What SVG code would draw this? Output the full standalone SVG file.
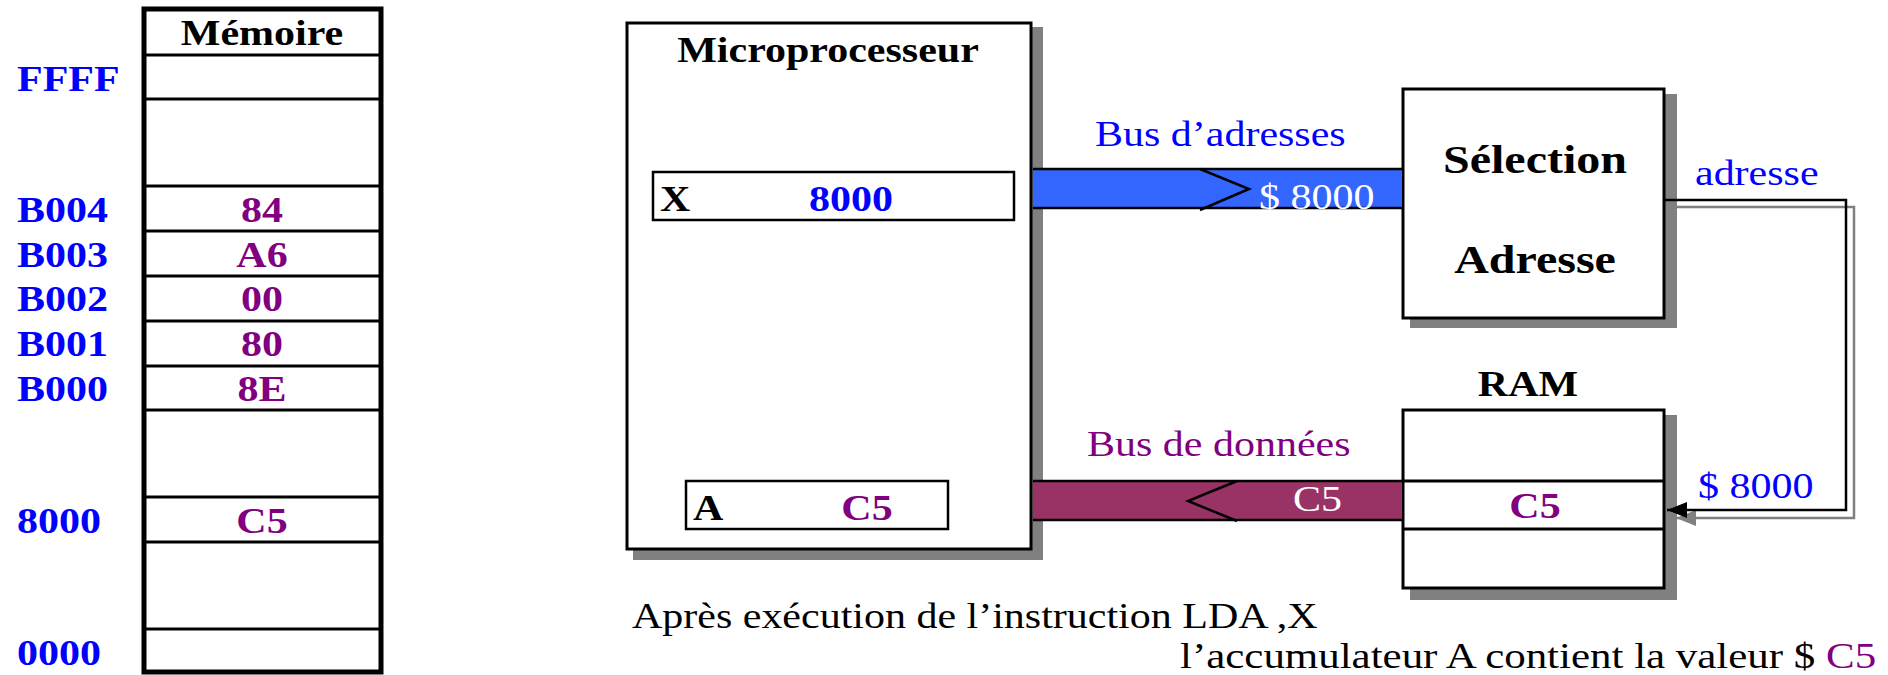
<svg xmlns="http://www.w3.org/2000/svg" width="1888" height="675" viewBox="0 0 1888 675">
<style>
text{font-family:"Liberation Serif","Times New Roman",serif;font-size:35px}
.b{font-weight:bold}
.big{font-weight:bold;font-size:40px}
.mid{text-anchor:middle}
.blue{fill:#0000FF}
.pur{fill:#800080}
.blk{fill:#000}
.wht{fill:#fff}
.box{fill:#fff;stroke:#000;stroke-width:3}
.shadow{fill:#808080}
.row{stroke:#000;stroke-width:3}
.reg{fill:#fff;stroke:#000;stroke-width:2.5}
.busline{stroke:#000;stroke-width:2.5;fill:none}
</style>
<defs>
<marker id="ah" markerWidth="20" markerHeight="16" refX="20" refY="8" orient="auto" markerUnits="userSpaceOnUse" viewBox="0 0 20 16">
<path d="M0,0 L20,8 L0,16 Z" fill="#000"/>
</marker>
<marker id="ahg" markerWidth="20" markerHeight="16" refX="20" refY="8" orient="auto" markerUnits="userSpaceOnUse" viewBox="0 0 20 16">
<path d="M0,0 L20,8 L0,16 Z" fill="#808080"/>
</marker>
</defs>
<rect width="1888" height="675" fill="#fff"/>

<g id="memoire">
<rect x="144" y="9" width="237" height="663" fill="#fff" stroke="#000" stroke-width="5"/>
<g class="row">
<line x1="144" y1="55" x2="381" y2="55"/>
<line x1="144" y1="99" x2="381" y2="99"/>
<line x1="144" y1="186" x2="381" y2="186"/>
<line x1="144" y1="231" x2="381" y2="231"/>
<line x1="144" y1="276" x2="381" y2="276"/>
<line x1="144" y1="321" x2="381" y2="321"/>
<line x1="144" y1="366" x2="381" y2="366"/>
<line x1="144" y1="410" x2="381" y2="410"/>
<line x1="144" y1="497" x2="381" y2="497"/>
<line x1="144" y1="542" x2="381" y2="542"/>
<line x1="144" y1="629" x2="381" y2="629"/>
</g>
<text class="b blk mid" transform="translate(262,45) scale(1.2,1)">Mémoire</text>
<text class="b blue" transform="translate(17,91) scale(1.2,1)">FFFF</text>
<text class="b blue" transform="translate(17,222) scale(1.2,1)">B004</text>
<text class="b blue" transform="translate(17,267) scale(1.2,1)">B003</text>
<text class="b blue" transform="translate(17,311) scale(1.2,1)">B002</text>
<text class="b blue" transform="translate(17,356) scale(1.2,1)">B001</text>
<text class="b blue" transform="translate(17,401) scale(1.2,1)">B000</text>
<text class="b blue" transform="translate(17,533) scale(1.2,1)">8000</text>
<text class="b blue" transform="translate(17,665) scale(1.2,1)">0000</text>
<text class="b pur mid" transform="translate(262,222) scale(1.2,1)">84</text>
<text class="b pur mid" transform="translate(262,267) scale(1.2,1)">A6</text>
<text class="b pur mid" transform="translate(262,311) scale(1.2,1)">00</text>
<text class="b pur mid" transform="translate(262,356) scale(1.2,1)">80</text>
<text class="b pur mid" transform="translate(262,401) scale(1.2,1)">8E</text>
<text class="b pur mid" transform="translate(262,533) scale(1.2,1)">C5</text>
</g>

<g id="microprocesseur">
<rect class="shadow" x="633" y="27" width="410" height="533"/>
<rect class="box" x="627" y="23" width="404" height="526"/>
<text class="b blk mid" transform="translate(828,62) scale(1.2,1)">Microprocesseur</text>
<g id="registre-x">
<rect class="reg" x="653" y="172" width="361" height="48"/>
<text class="b blk" transform="translate(660,211) scale(1.2,1)">X</text>
<text class="b blue mid" transform="translate(851,211) scale(1.2,1)">8000</text>
</g>
<g id="registre-a">
<rect class="reg" x="686" y="481" width="262" height="48"/>
<text class="b blk" transform="translate(693,520) scale(1.2,1)">A</text>
<text class="b pur mid" transform="translate(867,520) scale(1.2,1)">C5</text>
</g>
</g>

<g id="selection-adresse">
<rect class="shadow" x="1410" y="94" width="267" height="234"/>
<rect class="box" x="1403" y="89" width="261" height="229"/>
<text class="big blk mid" transform="translate(1535,173) scale(1.2,1)">Sélection</text>
<text class="big blk mid" transform="translate(1535,273) scale(1.2,1)">Adresse</text>
</g>

<g id="ram">
<text class="b blk mid" transform="translate(1528,396) scale(1.2,1)">RAM</text>
<rect class="shadow" x="1410" y="415" width="267" height="185"/>
<rect class="box" x="1403" y="410" width="261" height="178"/>
<line class="row" x1="1403" y1="481" x2="1664" y2="481"/>
<line class="row" x1="1403" y1="529" x2="1664" y2="529"/>
<text class="b pur mid" transform="translate(1535,518) scale(1.2,1)">C5</text>
</g>

<g id="connecteurs">
<g id="bus-adresses">
<rect x="1033" y="169" width="369" height="39" fill="#3366FF"/>
<line class="busline" x1="1033" y1="169" x2="1402" y2="169"/>
<line class="busline" x1="1033" y1="208" x2="1402" y2="208"/>
<polyline class="busline" points="1200,169 1249,189 1200,210"/>
<text class="wht" transform="translate(1259,209) scale(1.2,1)">$ 8000</text>
<text class="blue" transform="translate(1095,146) scale(1.2,1)">Bus d’adresses</text>
</g>
<g id="bus-donnees">
<rect x="1033" y="481" width="369" height="39" fill="#993366"/>
<line class="busline" x1="1033" y1="481" x2="1402" y2="481"/>
<line class="busline" x1="1033" y1="520" x2="1402" y2="520"/>
<polyline class="busline" points="1237,481 1188,501 1237,521"/>
<text class="wht" transform="translate(1293,511) scale(1.2,1)">C5</text>
<text class="pur" transform="translate(1087,456) scale(1.2,1)">Bus de données</text>
</g>
<g id="lien-adresse">
<polyline points="1677,207 1854,207 1854,518 1676,518" fill="none" stroke="#808080" stroke-width="2.5" marker-end="url(#ahg)"/>
<polyline points="1664,200 1846,200 1846,510 1667,510" fill="none" stroke="#000" stroke-width="2.5" marker-end="url(#ah)"/>
<text class="blue" transform="translate(1695,185) scale(1.2,1)">adresse</text>
<text class="blue" transform="translate(1698,498) scale(1.2,1)">$ 8000</text>
</g>
</g>

<g id="legende">
<text class="blk" transform="translate(632,628) scale(1.2,1)">Après exécution de l’instruction LDA ,X</text>
<text class="blk" transform="translate(1180,668) scale(1.227,1)">l’accumulateur A contient la valeur $ <tspan class="pur">C5</tspan></text>
</g>
</svg>
